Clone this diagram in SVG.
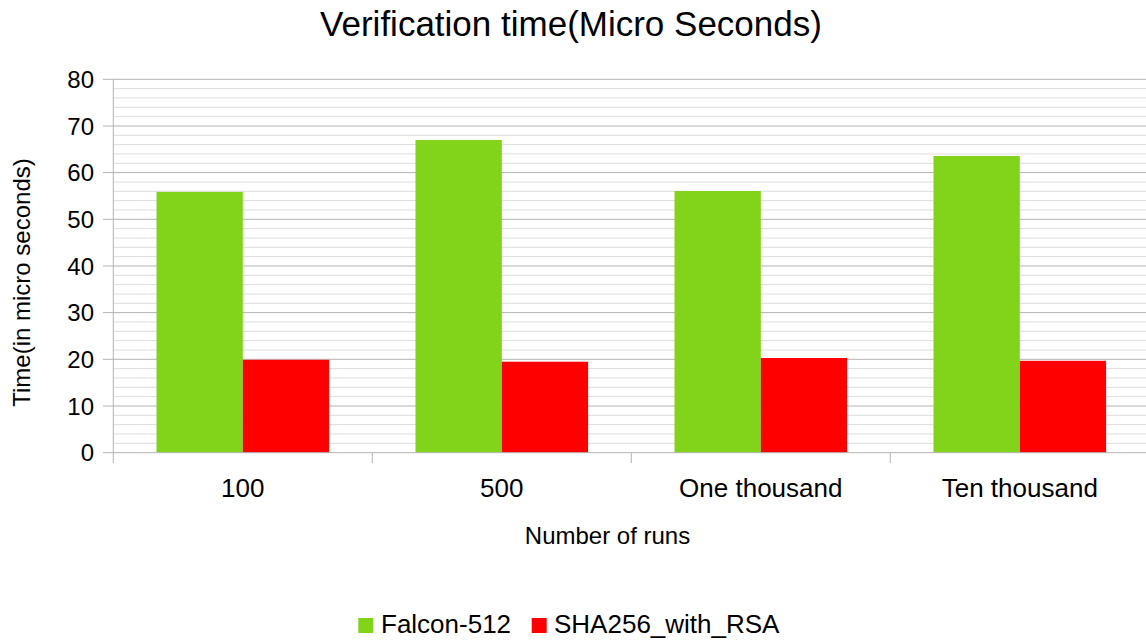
<svg xmlns="http://www.w3.org/2000/svg" width="1146" height="641" viewBox="0 0 1146 641">
<style>
text{font-family:"Liberation Sans",Arial,sans-serif;fill:#000}
.minor{stroke:#dddddd;stroke-width:1}
.major{stroke:#b3b3b3;stroke-width:1}
.ax{stroke:#b3b3b3;stroke-width:1}
.yl{font-size:24px;text-anchor:end}
.xl{font-size:26px;text-anchor:middle}
.g{fill:#81d41a}
.r{fill:#ff0000}
</style>
<rect width="1146" height="641" fill="#fff"/>
<text x="571" y="36" font-size="35" text-anchor="middle">Verification time(Micro Seconds)</text>
<g id="grid">
<path class="minor" d="M113 88.6H1146M113 97.9H1146M113 107.3H1146M113 116.6H1146M113 135.3H1146M113 144.6H1146M113 153.9H1146M113 163.3H1146M113 182H1146M113 191.3H1146M113 200.6H1146M113 210H1146M113 228.6H1146M113 238H1146M113 247.3H1146M113 256.6H1146M113 275.3H1146M113 284.6H1146M113 294H1146M113 303.3H1146M113 322H1146M113 331.3H1146M113 340.6H1146M113 350H1146M113 368.6H1146M113 378H1146M113 387.3H1146M113 396.6H1146M113 415.3H1146M113 424.6H1146M113 434H1146M113 443.3H1146"/>
<path class="major" d="M103 79.3H1146M103 126H1146M103 172.6H1146M103 219.3H1146M103 266H1146M103 312.6H1146M103 359.3H1146M103 406H1146"/>
</g>
<g id="bars">
<rect class="g" x="156.5" y="191.9" width="86.3" height="260.8"/>
<rect class="r" x="242.8" y="359.8" width="86.3" height="92.9"/>
<rect class="g" x="415.5" y="140" width="86.3" height="312.7"/>
<rect class="r" x="501.8" y="361.7" width="86.3" height="91"/>
<rect class="g" x="674.5" y="191" width="86.3" height="261.7"/>
<rect class="r" x="760.8" y="358" width="86.3" height="94.7"/>
<rect class="g" x="933.5" y="156" width="86.3" height="296.7"/>
<rect class="r" x="1019.8" y="360.8" width="86.3" height="91.9"/>
</g>
<g id="axes">
<path class="ax" d="M113.3 79.3V463M103 452.7H1146M372.3 452.7V463M631.3 452.7V463M890.3 452.7V463"/>
</g>
<g id="ylabels">
<text class="yl" x="94" y="88">80</text>
<text class="yl" x="94" y="135">70</text>
<text class="yl" x="94" y="181">60</text>
<text class="yl" x="94" y="228">50</text>
<text class="yl" x="94" y="275">40</text>
<text class="yl" x="94" y="321">30</text>
<text class="yl" x="94" y="368">20</text>
<text class="yl" x="94" y="415">10</text>
<text class="yl" x="94" y="461">0</text>
</g>
<g id="xlabels">
<text class="xl" x="242.8" y="497">100</text>
<text class="xl" x="501.8" y="497">500</text>
<text class="xl" x="760.8" y="497">One thousand</text>
<text class="xl" x="1019.8" y="497">Ten thousand</text>
</g>
<text x="607.5" y="544" font-size="24" text-anchor="middle">Number of runs</text>
<text transform="translate(30 282.5) rotate(-90)" font-size="24" text-anchor="middle">Time(in micro seconds)</text>
<g id="legend">
<rect class="g" x="358.3" y="618" width="15" height="15"/>
<text x="381" y="633" font-size="26">Falcon-512</text>
<rect class="r" x="531.7" y="618" width="15" height="15"/>
<text x="554" y="633" font-size="26">SHA256_with_RSA</text>
</g>
</svg>
